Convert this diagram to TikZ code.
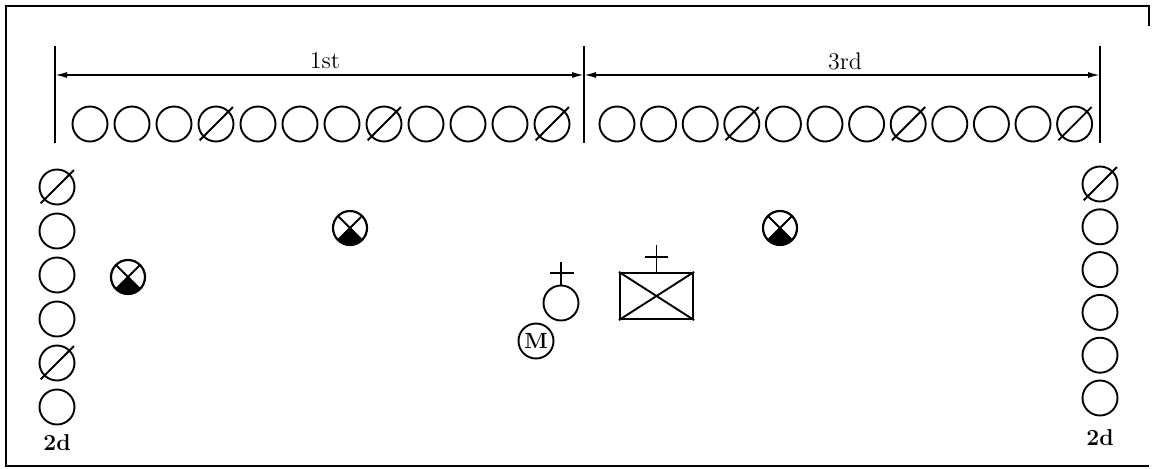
\documentclass[tikz,border=0pt]{standalone}
\usetikzlibrary{arrows.meta}
\begin{document}
\begin{tikzpicture}[x=0.5pt,y=-0.5pt,
  col/.style={circle,draw,line width=0.95pt,minimum size=17.5pt,inner sep=0pt},
  slash/.style={line width=0.95pt},
  lamp/.style={circle,draw,line width=1.1pt,minimum size=17pt,inner sep=0pt,
    path picture={
      \fill (path picture bounding box.center) -- ++(225:15pt) -- ++(0:21.2pt) -- cycle;
      \draw[line width=0.9pt] (path picture bounding box.center) ++(45:15pt) -- ++(225:30pt);
      \draw[line width=0.9pt] (path picture bounding box.center) ++(135:15pt) -- ++(315:30pt);
    }},
  dim/.style={line width=0.8pt},
  dimarrow/.style={line width=0.8pt,{Latex[length=6pt,width=3pt]}-{Latex[length=6pt,width=3pt]}},
  lbl/.style={font=\fontsize{12}{14}\selectfont,inner sep=0pt},
  blbl/.style={font=\fontsize{11.5}{14}\selectfont\bfseries,inner sep=0pt},
  frame/.style={line width=1.4pt}]
\useasboundingbox (0,0) rectangle (1152,468);
% frame
\coordinate (f1) at (1149,26);
\coordinate (f2) at (1149,6);
\coordinate (f3) at (6,6);
\coordinate (f4) at (6,466);
\coordinate (f5) at (1149,466);
\draw[frame] (f1) -- (f2) -- (f3) -- (f4) -- (f5);
% dimension lines
\coordinate (v1t) at (55,46);  \coordinate (v1b) at (55,143);
\coordinate (v2t) at (584,46); \coordinate (v2b) at (584,143);
\coordinate (v3t) at (1100,46); \coordinate (v3b) at (1100,143);
\draw[dim] (v1t) -- (v1b);
\draw[dim] (v2t) -- (v2b);
\draw[dim] (v3t) -- (v3b);
\coordinate (a1) at (55,75);
\coordinate (a2) at (584,75);
\coordinate (a3) at (1100,75);
\draw[dimarrow] (a1) -- (a2);
\draw[dimarrow] (a2) -- (a3);
\node[lbl] (first) at (325,61) {1st};
\node[lbl] (third) at (845,61) {3rd};
% top row
\foreach \i in {0,...,11} {
  \node[col] (a\i) at ({90+42*\i},124) {};
  \node[col] (b\i) at ({617+41.6*\i},124) {};
}
\foreach \n in {a3,a7,a11,b3,b7,b11} {
  \draw[slash] ([shift={(225:11.5pt)}]\n.center) -- ([shift={(45:12pt)}]\n.center);
}
% side columns
\foreach \i in {0,...,5} {
  \node[col] (L\i) at (57,{187+44*\i}) {};
  \node[col] (R\i) at (1100,{184+42.8*\i}) {};
}
\foreach \n in {L0,L4,R0} {
  \draw[slash] ([shift={(225:11.5pt)}]\n.center) -- ([shift={(45:12pt)}]\n.center);
}
\node[blbl] (ld) at (57,443) {2d};
\node[blbl] (rd) at (1100,438) {2d};
% lamps
\node[lamp] (lamp1) at (128,277) {};
\node[lamp] (lamp2) at (350,228) {};
\node[lamp] (lamp3) at (780,228) {};
% bulb with cross
\node[col] (bulb) at (561,303) {};
\coordinate (bt) at (561,262);
\coordinate (bl) at (550,273);
\coordinate (br) at (574,273);
\draw[slash] (bulb.north) -- (bt);
\draw[slash] (bl) -- (br);
% motor
\node[col,font=\fontsize{11}{13}\selectfont\bfseries] (motor) at (536,341) {M};
% box
\node[draw,line width=1.1pt,minimum width=36.5pt,minimum height=23pt,inner sep=0pt] (box) at (656.5,296) {};
\draw[slash] (box.north west) -- (box.south east);
\draw[slash] (box.south west) -- (box.north east);
\coordinate (boxt) at (656.5,245);
\coordinate (boxl) at (645,257);
\coordinate (boxr) at (668,257);
\draw[slash] (box.north) -- (boxt);
\draw[slash] (boxl) -- (boxr);
\end{tikzpicture}
\end{document}
